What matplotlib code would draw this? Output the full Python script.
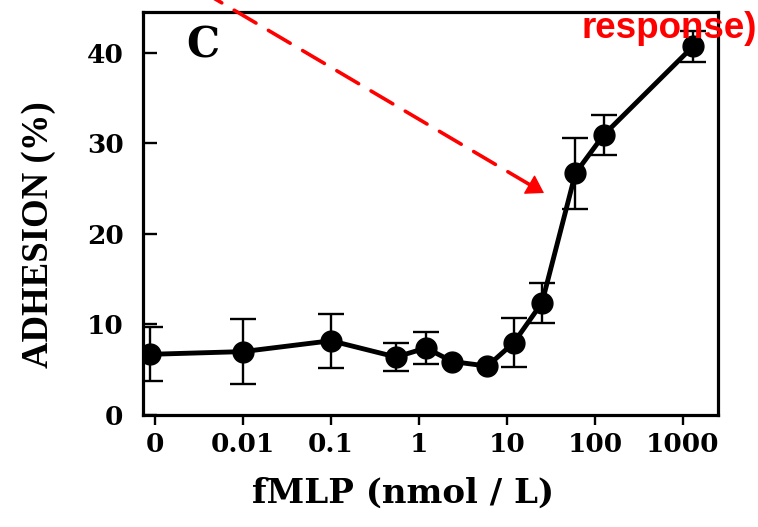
import numpy as np
import matplotlib
matplotlib.use("Agg")
import matplotlib.pyplot as plt
from matplotlib.patches import FancyArrowPatch

# ---- data ----
conc = [0, 0.01, 0.1, 0.55, 1.2, 2.4, 6.0, 12, 25, 60, 125, 1300]      # fMLP nmol/L
adhesion = [6.7, 7.0, 8.2, 6.4, 7.4, 5.9, 5.4, 8.0, 12.4, 26.7, 30.9, 40.7]  # %
adh_err = [3.0, 3.6, 3.0, 1.5, 1.8, np.nan, np.nan, 2.7, 2.2, 3.9, 2.2, 1.7]
tick_vals = [1e-3, 1e-2, 1e-1, 1, 10, 100, 1000]
tick_labels = ["0", "0.01", "0.1", "1", "10", "100", "1000"]
y_ticks = [0, 10, 20, 30, 40]
ZERO_POS = 8.8e-4   # where the zero-dose point sits on the log axis

serif = ["DejaVu Serif"]

fig = plt.figure(figsize=(7.58, 5.27), dpi=100)
ax = fig.add_axes([143/758, 1 - 415/527, (718-143)/758, (415-12)/527])

xs = [ZERO_POS if c == 0 else c for c in conc]
ax.errorbar(xs, adhesion, yerr=adh_err, fmt='o-', color='black', ms=15,
            lw=3.5, elinewidth=1.7, capsize=9.5, capthick=1.7, zorder=3)

ax.set_xscale('log')
ax.set_xlim(10**-3.136, 10**3.398)
ax.set_ylim(0, 44.5)
ax.set_xticks(tick_vals)
ax.set_xticklabels(tick_labels)
ax.xaxis.set_minor_locator(matplotlib.ticker.NullLocator())
ax.set_yticks(y_ticks)

for sp in ax.spines.values():
    sp.set_linewidth(2.3)
ax.tick_params(axis='y', direction='in', length=10, width=1.7, pad=14)
ax.tick_params(axis='x', direction='out', length=7, width=1.7, pad=5)
for lab in ax.get_xticklabels() + ax.get_yticklabels():
    lab.set_family(serif)
    lab.set_fontweight('bold')
    lab.set_fontsize(19)

ax.set_xlabel("fMLP (nmol / L)", family=serif, fontweight='bold', fontsize=24.5)
ax.xaxis.set_label_coords(0.452, -0.152)
ax.set_ylabel("ADHESION (%)", family=["Liberation Serif"], fontweight='bold', fontsize=26.5)
ax.yaxis.set_label_coords(-0.152, 0.447)

ax.text(0.075, 0.97, "C", transform=ax.transAxes, family=serif,
        fontweight='bold', fontsize=30, va='top', ha='left')

# red annotation
fig.text(582/758, 1 - 38/527, "response)", color='#ff0000',
         family=["Liberation Sans"], fontweight='bold', fontsize=26.5,
         ha='left', va='baseline')

# dashed shaft
shaft = FancyArrowPatch((200/758, 1 + 10/527), (532/758, 1 - 186/527),
                        transform=fig.transFigure, arrowstyle='-',
                        color='#ff0000', lw=2.6, linestyle=(0, (7, 4)),
                        shrinkA=0, shrinkB=0)
fig.add_artist(shaft)
# solid arrow head
head = FancyArrowPatch((525/758, 1 - 182/527), (544/758, 1 - 193/527),
                       transform=fig.transFigure,
                       arrowstyle='-|>,head_length=0.55,head_width=0.35',
                       mutation_scale=20, color='#ff0000', lw=1.0,
                       shrinkA=0, shrinkB=0)
fig.add_artist(head)

fig.savefig("out.png", dpi=100)
